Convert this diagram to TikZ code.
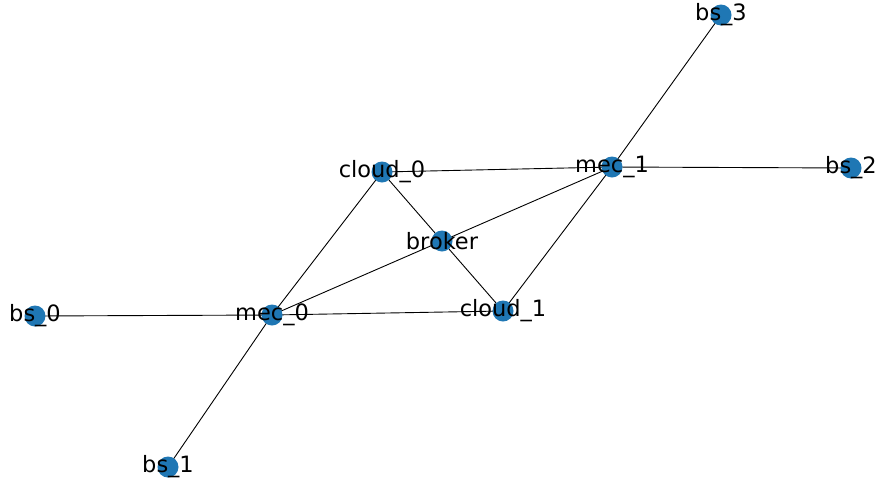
\documentclass[tikz,border=0pt]{standalone}
\usepackage{fontspec}
\setmainfont{DejaVu Sans}
\usetikzlibrary{backgrounds}
\definecolor{nxblue}{HTML}{1F77B4}
\tikzset{
  vtx/.style={circle, fill=nxblue, draw=none, minimum size=21pt, inner sep=0pt,
    label={[font=\fontsize{22.5}{26}\selectfont, inner sep=0pt, text=black]center:#1}},
  edge/.style={draw=black, line width=0.9pt}
}
\begin{document}
\begin{tikzpicture}[x=1pt, y=-1pt]
\useasboundingbox (0,0) rectangle (878,485);
\node[vtx={bs\_3}] (bs3) at (721,15) {};
\node[vtx={mec\_1}] (mec1) at (612,167) {};
\node[vtx={bs\_2}] (bs2) at (851,168) {};
\node[vtx={cloud\_0}] (cloud0) at (382,172) {};
\node[vtx={broker}] (broker) at (442,241) {};
\node[vtx={bs\_0}] (bs0) at (35,316) {};
\node[vtx={mec\_0}] (mec0) at (272,315) {};
\node[vtx={cloud\_1}] (cloud1) at (503,311) {};
\node[vtx={bs\_1}] (bs1) at (168,467) {};
\begin{scope}[on background layer]
\draw[edge] (bs3.center) -- (mec1.center);
\draw[edge] (mec1.center) -- (bs2.center);
\draw[edge] (cloud0.center) -- (mec1.center);
\draw[edge] (cloud0.center) -- (broker.center);
\draw[edge] (cloud0.center) -- (mec0.center);
\draw[edge] (broker.center) -- (mec1.center);
\draw[edge] (broker.center) -- (mec0.center);
\draw[edge] (broker.center) -- (cloud1.center);
\draw[edge] (mec1.center) -- (cloud1.center);
\draw[edge] (mec0.center) -- (cloud1.center);
\draw[edge] (bs0.center) -- (mec0.center);
\draw[edge] (mec0.center) -- (bs1.center);
\end{scope}
\end{tikzpicture}
\end{document}
